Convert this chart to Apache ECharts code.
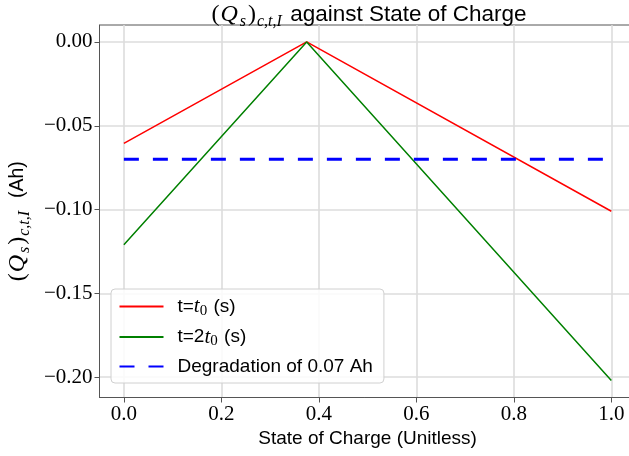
<!DOCTYPE html>
<html>
<head>
<meta charset="utf-8">
<script src="https://cdn.jsdelivr.net/npm/echarts@6/dist/echarts.min.js"></script>
<style>
  html, body { margin: 0; padding: 0; background: #ffffff; }
  #chart { width: 629px; height: 456px; }
</style>
</head>
<body>
<div id="chart"></div>
<script>
// ---- data ----
const soc = [0, 0.375, 1.0];
const qT0 = [-0.0605, 0.0, -0.101];
const q2T0 = [-0.121, 0.0, -0.202];
const degSoc = [0, 1.0];
const degValue = [-0.07, -0.07];
const xTicks = [0, 0.2, 0.4, 0.6, 0.8, 1.0];
const yTicks = [0, -0.05, -0.10, -0.15, -0.20];
const seriesNames = ['t=t0 (s)', 't=2t0 (s)', 'Degradation of 0.07 Ah'];

const SANS = "'Liberation Sans', 'DejaVu Sans', sans-serif";
const SERIF = "'Liberation Serif', 'DejaVu Serif', serif";

function pairs(xs, ys) { return xs.map((x, i) => [x, ys[i]]); }
function fmtMinus(s) { return s.replace('-', '\u2212'); }

function mathRich(size, subSize, textSize, lh) {
  return {
    p:   { fontFamily: SERIF, fontWeight: 'normal', fontSize: size, lineHeight: lh, color: '#000' },
    mi:  { fontFamily: SERIF, fontWeight: 'normal', fontStyle: 'italic', fontSize: size, lineHeight: lh, color: '#000', padding: [0, 1, 0, 1] },
    sub: { fontFamily: SERIF, fontWeight: 'normal', fontStyle: 'italic', fontSize: subSize, lineHeight: subSize, verticalAlign: 'bottom', color: '#000', padding: [0, 2, 0, 1] },
    t:   { fontFamily: SANS, fontWeight: 'normal', fontSize: textSize, lineHeight: lh, color: '#000' }
  };
}

const gridLines = xTicks.map(v => ({ xAxis: v })).concat(yTicks.map(v => ({ yAxis: v })));

const chart = echarts.init(document.getElementById('chart'), null, { renderer: 'canvas' });
const option = {
  animation: false,
  backgroundColor: '#ffffff',
  title: {
    text: '{p|(}{mi|Q}{sub|s}{p|)}{sub|c,t,I}{t| against State of Charge}',
    left: 364,
    textAlign: 'center',
    top: -5,
    textStyle: { fontWeight: 'normal', rich: mathRich(24, 16, 22.5, 30) }
  },
  grid: {
    left: 99.5, top: 25, width: 536.2, bottom: 58.5,
    outerBoundsMode: 'none',
    show: true, borderColor: '#555555', borderWidth: 1, backgroundColor: 'transparent',
    containLabel: false
  },
  legend: {
    data: seriesNames,
    orient: 'vertical',
    left: 111, top: 289,
    itemWidth: 44, itemHeight: 14, itemGap: 8,
    padding: [7, 11, 7, 7.5],
    backgroundColor: 'rgba(255,255,255,0.85)',
    borderColor: '#d0d0d0', borderWidth: 1, borderRadius: 4,
    itemStyle: { color: 'rgba(0,0,0,0)', borderWidth: 0, opacity: 0 },
    formatter: function (name) {
      if (name === seriesNames[0]) return '{t|t=}{mi|t}{subr|0}{t| (s)}';
      if (name === seriesNames[1]) return '{t|t=2}{mi|t}{subr|0}{t| (s)}';
      return '{t|' + name + '}';
    },
    textStyle: {
      padding: [0, 0, 0, 9],
      rich: {
        t:   { fontFamily: SANS, fontSize: 19, lineHeight: 24, color: '#000' },
        mi:  { fontFamily: SERIF, fontStyle: 'italic', fontSize: 21, lineHeight: 24, color: '#000' },
        subr:{ fontFamily: SERIF, fontSize: 15, lineHeight: 15, verticalAlign: 'bottom', color: '#000', padding: [0, 1, 0, 0] }
      }
    }
  },
  xAxis: {
    type: 'value', min: -0.05, max: 1.05,
    name: 'State of Charge (Unitless)',
    nameLocation: 'middle', nameGap: 30,
    nameTextStyle: { fontFamily: SANS, fontSize: 19, color: '#000' },
    axisLine: { show: true, onZero: false, lineStyle: { color: '#555555', width: 1 } },
    axisTick: { show: true, customValues: xTicks, length: 5, inside: false, lineStyle: { color: '#555555', width: 1 } },
    axisLabel: {
      customValues: xTicks, margin: 6,
      fontFamily: SERIF, fontSize: 21, color: '#000',
      formatter: v => fmtMinus(Number(v).toFixed(1))
    },
    splitLine: { show: false }
  },
  yAxis: {
    type: 'value', min: -0.2121, max: 0.0101,
    name: '{p|(}{mi|Q}{sub|s}{p|)}{sub|c,t,I}{t|  (Ah)}',
    nameLocation: 'middle', nameGap: 52, nameRotate: 90,
    nameTextStyle: { padding: [0, 20, 0, 0], rich: mathRich(24, 16, 19.5, 30) },
    axisLine: { show: true, onZero: false, lineStyle: { color: '#555555', width: 1 } },
    axisTick: { show: true, customValues: yTicks, length: 5, inside: false, lineStyle: { color: '#555555', width: 1 } },
    axisLabel: {
      customValues: yTicks, margin: 7,
      fontFamily: SERIF, fontSize: 21, color: '#000',
      formatter: v => fmtMinus(Number(v).toFixed(2))
    },
    splitLine: { show: false }
  },
  series: [
    {
      name: '__grid', type: 'line', data: [], z: 0, silent: true,
      markLine: {
        z: 0,
        silent: true, symbol: ['none', 'none'], label: { show: false },
        lineStyle: { color: '#dcdcdc', width: 1.6, type: 'solid' },
        emphasis: { disabled: true },
        animation: false,
        data: gridLines
      }
    },
    {
      name: seriesNames[0], type: 'line', data: pairs(soc, qT0),
      symbol: 'none', color: '#ff0000', z: 6,
      lineStyle: { color: '#ff0000', width: 1.5 }
    },
    {
      name: seriesNames[1], type: 'line', data: pairs(soc, q2T0),
      symbol: 'none', color: '#008000', z: 6,
      lineStyle: { color: '#008000', width: 1.5 }
    },
    {
      name: seriesNames[2], type: 'line', data: pairs(degSoc, degValue),
      symbol: 'none', color: '#0000ff', z: 6,
      lineStyle: { color: '#0000ff', width: 3, type: [15, 14], cap: 'butt' }
    }
  ]
};
chart.setOption(option);
</script>
</body>
</html>
